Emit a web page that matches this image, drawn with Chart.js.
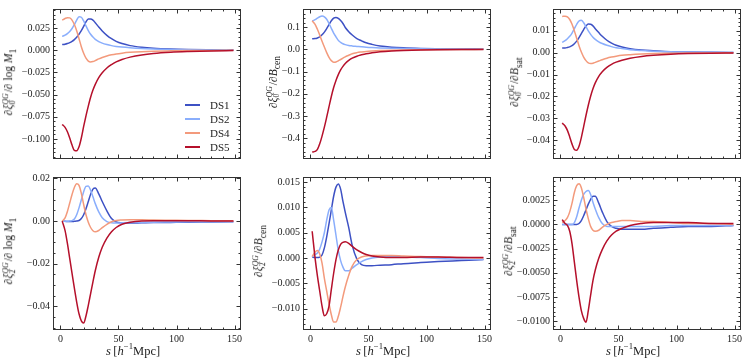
<!DOCTYPE html>
<html>
<head>
<meta charset="utf-8">
<script src="https://cdn.jsdelivr.net/npm/chart.js@4.4.1/dist/chart.umd.min.js"></script>
<style>
body { margin: 0; background: #fff; }
#fig { position: relative; width: 747px; height: 361px; overflow: hidden; font-family: "Liberation Serif", serif; color: #222; background: #fff; }
#fig canvas { position: absolute; }
.ylab { position: absolute; white-space: nowrap; font-size: 11.5px; transform: translate(-50%, -50%) rotate(-90deg); }
.xlab { position: absolute; white-space: nowrap; font-size: 12.5px; transform: translate(-50%, -50%); }
.ss { display: inline-block; font-size: 0.68em; line-height: 0.95em; vertical-align: -0.38em; margin-right: 1px; }
.ss span, .ss i { display: block; }
.lg { position: absolute; font-size: 11px; white-space: nowrap; }
.lg span.ln { position: absolute; height: 2px; width: 15px; }
</style>
</head>
<body>
<div id="fig"></div>
<script>
// separaciones s [h^-1 Mpc]
var S = [1.5, 4, 6, 8, 10, 12, 14, 16, 18, 20, 22, 24, 26, 28, 30, 33, 36, 40, 44, 48, 53, 60, 70, 80, 95, 110, 130, 149];

var names = ['DS1', 'DS2', 'DS4', 'DS5'];
var colors = ['#3d51c4', '#8aaefc', '#f39a7c', '#b5102b'];

// d xi0 / d log M1
var m1_xi0_ds1 = [0.0064,0.0068,0.0075,0.0085,0.0100,0.0120,0.0147,0.0180,0.0220,0.0268,0.0320,0.0352,0.0352,0.0340,0.0310,0.0262,0.0217,0.0168,0.0130,0.0100,0.0075,0.0052,0.0034,0.0023,0.0014,0.0009,0.0005,0.0002];
var m1_xi0_ds2 = [0.0156,0.0170,0.0188,0.0212,0.0245,0.0290,0.0340,0.0378,0.0372,0.0330,0.0275,0.0222,0.0180,0.0148,0.0123,0.0098,0.0080,0.0064,0.0052,0.0043,0.0035,0.0027,0.0019,0.0014,0.0009,0.0006,0.0003,0.0001];
var m1_xi0_ds4 = [0.0340,0.0358,0.0367,0.0365,0.0340,0.0290,0.0220,0.0130,0.0040,-0.0035,-0.0090,-0.0123,-0.0133,-0.0128,-0.0117,-0.0098,-0.0082,-0.0065,-0.0052,-0.0042,-0.0033,-0.0024,-0.0016,-0.0011,-0.0007,-0.0004,-0.0002,-0.0001];
var m1_xi0_ds5 = [-0.0837,-0.0870,-0.0920,-0.0990,-0.1070,-0.1130,-0.1135,-0.1090,-0.0990,-0.0860,-0.0740,-0.0630,-0.0530,-0.0450,-0.0385,-0.0310,-0.0255,-0.0200,-0.0162,-0.0132,-0.0105,-0.0078,-0.0053,-0.0037,-0.0023,-0.0015,-0.0008,-0.0004];

// d xi0 / d Bcen
var bc_xi0_ds1 = [0.047,0.048,0.051,0.056,0.065,0.077,0.093,0.111,0.128,0.140,0.143,0.139,0.129,0.116,0.098,0.079,0.064,0.048,0.038,0.029,0.022,0.015,0.0095,0.0065,0.004,0.0027,0.0016,0.001];
var bc_xi0_ds2 = [0.127,0.133,0.140,0.146,0.149,0.146,0.135,0.116,0.094,0.073,0.056,0.040,0.031,0.025,0.021,0.017,0.015,0.013,0.011,0.0092,0.0075,0.0058,0.0042,0.0031,0.002,0.0013,0.0008,0.0005];
var bc_xi0_ds4 = [0.128,0.112,0.090,0.064,0.036,0.010,-0.015,-0.036,-0.051,-0.058,-0.057,-0.052,-0.046,-0.040,-0.034,-0.027,-0.020,-0.015,-0.012,-0.0095,-0.0075,-0.0055,-0.0038,-0.0028,-0.0018,-0.0012,-0.0007,-0.0004];
var bc_xi0_ds5 = [-0.462,-0.459,-0.450,-0.425,-0.390,-0.350,-0.305,-0.258,-0.212,-0.172,-0.140,-0.114,-0.093,-0.077,-0.064,-0.050,-0.040,-0.031,-0.025,-0.020,-0.016,-0.0115,-0.0078,-0.0056,-0.0036,-0.0024,-0.0014,-0.0008];

// d xi0 / d Bsat
var bs_xi0_ds1 = [0.0022,0.0022,0.0024,0.0027,0.0032,0.0041,0.0053,0.0069,0.0087,0.0106,0.0122,0.0131,0.0130,0.0123,0.0110,0.0092,0.0075,0.0057,0.0044,0.0034,0.0026,0.0018,0.0012,0.0009,0.0005,0.0003,0.0002,0.0001];
var bs_xi0_ds2 = [0.0047,0.0055,0.0064,0.0075,0.0090,0.0110,0.0130,0.0145,0.0148,0.0137,0.0119,0.0100,0.0084,0.0071,0.0061,0.0050,0.0042,0.0034,0.0028,0.0023,0.0019,0.0014,0.0010,0.0007,0.0004,0.0003,0.0002,0.0001];
var bs_xi0_ds4 = [0.0166,0.0167,0.0164,0.0152,0.0130,0.0100,0.0066,0.0032,0.0003,-0.0020,-0.0036,-0.0046,-0.0049,-0.0048,-0.0044,-0.0038,-0.0032,-0.0025,-0.0020,-0.0016,-0.0012,-0.0009,-0.0006,-0.0004,-0.0002,-0.0001,-0.0001,0.0];
var bs_xi0_ds5 = [-0.0322,-0.0335,-0.0355,-0.0385,-0.0418,-0.0442,-0.0446,-0.0428,-0.0388,-0.0338,-0.0287,-0.0240,-0.0199,-0.0165,-0.0138,-0.0108,-0.0087,-0.0067,-0.0053,-0.0043,-0.0034,-0.0025,-0.0017,-0.0012,-0.0007,-0.0004,-0.0002,-0.0001];

// d xi2 / d log M1
var m1_xi2_ds1 = [0.0,-0.0001,-0.0002,-0.0002,-0.0002,-0.0001,0.0,0.0003,0.0012,0.0030,0.0058,0.0092,0.0126,0.0150,0.0155,0.0128,0.0092,0.0048,0.0012,-0.0004,-0.0008,-0.0009,-0.0008,-0.0007,-0.0006,-0.0005,-0.0004,-0.0003];
var m1_xi2_ds2 = [0.0,-0.0001,-0.0001,0.0,0.0002,0.0010,0.0030,0.0062,0.0100,0.0138,0.0163,0.0165,0.0145,0.0114,0.0082,0.0043,0.0016,-0.0002,-0.0008,-0.0009,-0.0008,-0.0007,-0.0006,-0.0005,-0.0004,-0.0003,-0.0003,-0.0002];
var m1_xi2_ds4 = [0.0,0.0015,0.0045,0.0085,0.0125,0.0158,0.0175,0.0168,0.0130,0.0078,0.0030,-0.0005,-0.0030,-0.0045,-0.0050,-0.0044,-0.0031,-0.0015,-0.0003,0.0003,0.0005,0.0006,0.0006,0.0005,0.0004,0.0003,0.0002,0.0001];
var m1_xi2_ds5 = [0.0,-0.0045,-0.0105,-0.0175,-0.0245,-0.0315,-0.0380,-0.0435,-0.0468,-0.0478,-0.0445,-0.0395,-0.0340,-0.0285,-0.0233,-0.0170,-0.0123,-0.0080,-0.0050,-0.0030,-0.0015,-0.0005,0.0001,0.0002,0.0002,0.0002,0.0001,0.0001];

// d xi2 / d Bcen
var bc_xi2_ds1 = [0.0002,0.0001,0.0001,0.0002,0.0006,0.0020,0.0042,0.0068,0.0095,0.0122,0.0140,0.0146,0.0136,0.0112,0.0090,0.0060,0.0025,-0.0002,-0.0013,-0.0015,-0.0015,-0.0014,-0.0013,-0.0011,-0.0009,-0.0007,-0.0005,-0.0003];
var bc_xi2_ds2 = [0.0002,0.0007,0.0010,0.0018,0.0032,0.0050,0.0075,0.0095,0.0100,0.0075,0.0045,0.0015,-0.0005,-0.0018,-0.0025,-0.0025,-0.0020,-0.0013,-0.0007,-0.0003,0.0,0.0002,0.0003,0.0002,0.0001,-0.0001,-0.0002,-0.0003];
var bc_xi2_ds4 = [0.0003,0.0012,0.0015,0.0008,-0.0010,-0.0040,-0.0065,-0.0090,-0.0112,-0.0126,-0.0126,-0.0115,-0.0097,-0.0076,-0.0057,-0.0034,-0.0016,-0.0003,0.0002,0.0004,0.0005,0.0005,0.0005,0.0004,0.0003,0.0002,0.0001,0.0];
var bc_xi2_ds5 = [0.0053,0.0,-0.0035,-0.0065,-0.0095,-0.0114,-0.0110,-0.0095,-0.0062,-0.0030,-0.0003,0.0016,0.0027,0.0031,0.0032,0.0029,0.0023,0.0016,0.0011,0.0007,0.0004,0.0002,0.0001,0.0001,0.0002,0.0002,0.0001,0.0001];

// d xi2 / d Bsat
var bs_xi2_ds1 = [0.0,0.0,0.0,0.0,0.0,0.0,0.0,0.0001,0.0004,0.0009,0.0015,0.0021,0.0026,0.0029,0.0029,0.0022,0.0013,0.0003,-0.0002,-0.0004,-0.0005,-0.0005,-0.0005,-0.0004,-0.0003,-0.0002,-0.0002,-0.0001];
var bs_xi2_ds2 = [0.0,0.0,0.0,0.0,0.0,0.0002,0.0008,0.0017,0.0025,0.0031,0.0034,0.0035,0.0031,0.0023,0.0016,0.0007,0.0001,-0.0002,-0.0002,-0.0002,-0.0002,-0.0002,-0.0002,-0.0002,-0.0001,-0.0001,-0.0001,-0.0001];
var bs_xi2_ds4 = [0.0002,0.0004,0.0007,0.0013,0.0022,0.0033,0.0040,0.0042,0.0038,0.0028,0.0016,0.0006,-0.0002,-0.0006,-0.0007,-0.0006,-0.0003,0.0,0.0002,0.0003,0.0004,0.0004,0.0003,0.0003,0.0002,0.0001,0.0001,0.0];
var bs_xi2_ds5 = [0.0005,0.0001,-0.0001,-0.0007,-0.0020,-0.0039,-0.0058,-0.0075,-0.0089,-0.0097,-0.0101,-0.0089,-0.0073,-0.0058,-0.0047,-0.0035,-0.0026,-0.0017,-0.0011,-0.0007,-0.0004,-0.0001,0.0001,0.0002,0.0002,0.0002,0.0001,0.0001];

// ticks
var xTicks = [0, 50, 100, 150];
var yTicks_m1_xi0 = [-0.1, -0.075, -0.05, -0.025, 0, 0.025];
var yTicks_bc_xi0 = [-0.4, -0.3, -0.2, -0.1, 0, 0.1];
var yTicks_bs_xi0 = [-0.04, -0.03, -0.02, -0.01, 0, 0.01];
var yTicks_m1_xi2 = [-0.04, -0.02, 0, 0.02];
var yTicks_bc_xi2 = [-0.01, -0.005, 0, 0.005, 0.01, 0.015];
var yTicks_bs_xi2 = [-0.01, -0.0075, -0.005, -0.0025, 0, 0.0025];

var paneles = [
  { col: 0, row: 0, series: [m1_xi0_ds1, m1_xi0_ds2, m1_xi0_ds4, m1_xi0_ds5], ticks: yTicks_m1_xi0, dec: 3, minor: 0.005, min: -0.1227, max: 0.0465,
    label: '∂<i>ξ</i><span class="ss"><i>QG</i><span>0</span></span>/∂ log <i>M</i><sub>1</sub>', lx: 10 },
  { col: 1, row: 0, series: [bc_xi0_ds1, bc_xi0_ds2, bc_xi0_ds4, bc_xi0_ds5], ticks: yTicks_bc_xi0, dec: 1, minor: 0.02, min: -0.493, max: 0.181,
    label: '∂<i>ξ</i><span class="ss"><i>QG</i><span>0</span></span>/∂<i>B</i><sub>cen</sub>', lx: 274 },
  { col: 2, row: 0, series: [bs_xi0_ds1, bs_xi0_ds2, bs_xi0_ds4, bs_xi0_ds5], ticks: yTicks_bs_xi0, dec: 2, minor: 0.002, min: -0.0486, max: 0.0200,
    label: '∂<i>ξ</i><span class="ss"><i>QG</i><span>0</span></span>/∂<i>B</i><sub>sat</sub>', lx: 516 },
  { col: 0, row: 1, series: [m1_xi2_ds1, m1_xi2_ds2, m1_xi2_ds4, m1_xi2_ds5], ticks: yTicks_m1_xi2, dec: 2, minor: 0.005, min: -0.0511, max: 0.0207,
    label: '∂<i>ξ</i><span class="ss"><i>QG</i><span>2</span></span>/∂ log <i>M</i><sub>1</sub>', lx: 10 },
  { col: 1, row: 1, series: [bc_xi2_ds1, bc_xi2_ds2, bc_xi2_ds4, bc_xi2_ds5], ticks: yTicks_bc_xi2, dec: 3, minor: 0.001, min: -0.0142, max: 0.0160,
    label: '∂<i>ξ</i><span class="ss"><i>QG</i><span>2</span></span>/∂<i>B</i><sub>cen</sub>', lx: 260 },
  { col: 2, row: 1, series: [bs_xi2_ds1, bs_xi2_ds2, bs_xi2_ds4, bs_xi2_ds5], ticks: yTicks_bs_xi2, dec: 4, minor: 0.0005, min: -0.0109, max: 0.0049,
    label: '∂<i>ξ</i><span class="ss"><i>QG</i><span>2</span></span>/∂<i>B</i><sub>sat</sub>', lx: 510 }
];

var X_MIN = -6.4, X_MAX = 155.5;
var fig = document.getElementById('fig');

function fmt(v, dec) {
  if (Math.abs(v) < 1e-12) v = 0;
  return (v < 0 ? '\u2212' : '') + Math.abs(v).toFixed(dec);
}

// marco y ticks hacia adentro, en los cuatro lados
var marcoPlugin = {
  id: 'marco',
  afterDraw: function (chart) {
    var ctx = chart.ctx, ca = chart.chartArea;
    var xs = chart.scales.x, ys = chart.scales.y;
    var p = chart.options.plugins.marco;
    ctx.save();
    ctx.strokeStyle = '#333';
    ctx.lineWidth = 1;
    var L = Math.round(ca.left) + 0.5, R = Math.round(ca.right) - 0.5;
    var T = Math.round(ca.top) + 0.5, B = Math.round(ca.bottom) - 0.5;
    ctx.strokeRect(L, T, R - L, B - T);
    ctx.beginPath();
    // x
    for (var k = Math.ceil(X_MIN / 10); k * 10 <= X_MAX; k++) {
      var v = k * 10;
      var len = (v % 50 === 0) ? 4 : 2;
      var px = Math.round(xs.getPixelForValue(v)) + 0.5;
      ctx.moveTo(px, B); ctx.lineTo(px, B - len);
      ctx.moveTo(px, T); ctx.lineTo(px, T + len);
    }
    // y
    var step = p.minor;
    for (var j = Math.ceil(ys.min / step - 1e-9); j * step <= ys.max + 1e-12; j++) {
      var vy = j * step;
      var major = p.ticks.some(function (t) { return Math.abs(t - vy) < step * 1e-3; });
      var ly = major ? 4 : 2;
      var py = Math.round(ys.getPixelForValue(vy)) + 0.5;
      ctx.moveTo(L, py); ctx.lineTo(L + ly, py);
      ctx.moveTo(R, py); ctx.lineTo(R - ly, py);
    }
    ctx.stroke();
    ctx.restore();
  }
};

paneles.forEach(function (p, idx) {
  var cw = p.col === 2 ? 247 : 250;
  var ch = p.row === 0 ? 168 : 193;
  var cv = document.createElement('canvas');
  cv.width = cw; cv.height = ch;
  cv.style.left = (p.col * 250) + 'px';
  cv.style.top = (p.row === 0 ? 0 : 168) + 'px';
  cv.style.width = cw + 'px'; cv.style.height = ch + 'px';
  fig.appendChild(cv);

  var datasets = p.series.map(function (arr, i) {
    return {
      label: names[i],
      data: S.map(function (x, k) { return { x: x, y: arr[k] }; }),
      borderColor: colors[i],
      backgroundColor: colors[i],
      borderWidth: 1.5,
      pointRadius: 0,
      cubicInterpolationMode: 'monotone',
      fill: false,
      order: 4 - i
    };
  });

  new Chart(cv, {
    type: 'line',
    data: { datasets: datasets },
    options: {
      responsive: false,
      animation: false,
      devicePixelRatio: 1,
      layout: { padding: { left: 0, top: p.row === 0 ? 3 : 5, right: cw - 53 - 188, bottom: 0 } },
      plugins: {
        legend: { display: false },
        tooltip: { enabled: false },
        marco: { ticks: p.ticks, minor: p.minor }
      },
      scales: {
        x: {
          type: 'linear', min: X_MIN, max: X_MAX,
          grid: { display: false, drawTicks: false },
          border: { display: false },
          afterBuildTicks: function (sc) { sc.ticks = xTicks.map(function (v) { return { value: v }; }); },
          afterFit: function (sc) { sc.height = p.row === 0 ? 6 : 31; },
          ticks: {
            display: p.row === 1, padding: 3, maxRotation: 0, autoSkip: false,
            color: '#222', font: { family: 'Liberation Serif', size: 10 },
            callback: function (v) { return String(v); }
          }
        },
        y: {
          type: 'linear', min: p.min, max: p.max,
          grid: { display: false, drawTicks: false },
          border: { display: false },
          afterBuildTicks: function (sc) { sc.ticks = p.ticks.map(function (v) { return { value: v }; }); },
          afterFit: function (sc) { sc.width = 53; },
          ticks: {
            padding: 3, autoSkip: false,
            color: '#222', font: { family: 'Liberation Serif', size: 10 },
            callback: function (v) { return fmt(v, p.dec); }
          }
        }
      }
    },
    plugins: [marcoPlugin]
  });

  var yl = document.createElement('div');
  yl.className = 'ylab';
  yl.innerHTML = p.label;
  yl.style.left = p.lx + 'px';
  yl.style.top = (p.row === 0 ? 82 : 251) + 'px';
  fig.appendChild(yl);

  if (p.row === 1) {
    var xl = document.createElement('div');
    xl.className = 'xlab';
    xl.innerHTML = '<i>s</i>&#8201;[<i>h</i><sup style="font-size:0.7em">\u22121</sup>Mpc]';
    xl.style.left = (p.col * 250 + 133) + 'px';
    xl.style.top = '350px';
    fig.appendChild(xl);
  }
});

// leyenda dentro del primer panel
names.forEach(function (n, i) {
  var d = document.createElement('div');
  d.className = 'lg';
  d.style.left = '185px';
  d.style.top = (105 + i * 14 - 7) + 'px';
  d.style.height = '14px';
  d.innerHTML = '<span class="ln" style="background:' + colors[i] + ';top:6px;left:0"></span>' +
    '<span style="position:absolute;left:25px;top:0;line-height:14px">' + n + '</span>';
  fig.appendChild(d);
});
</script>
</body>
</html>
